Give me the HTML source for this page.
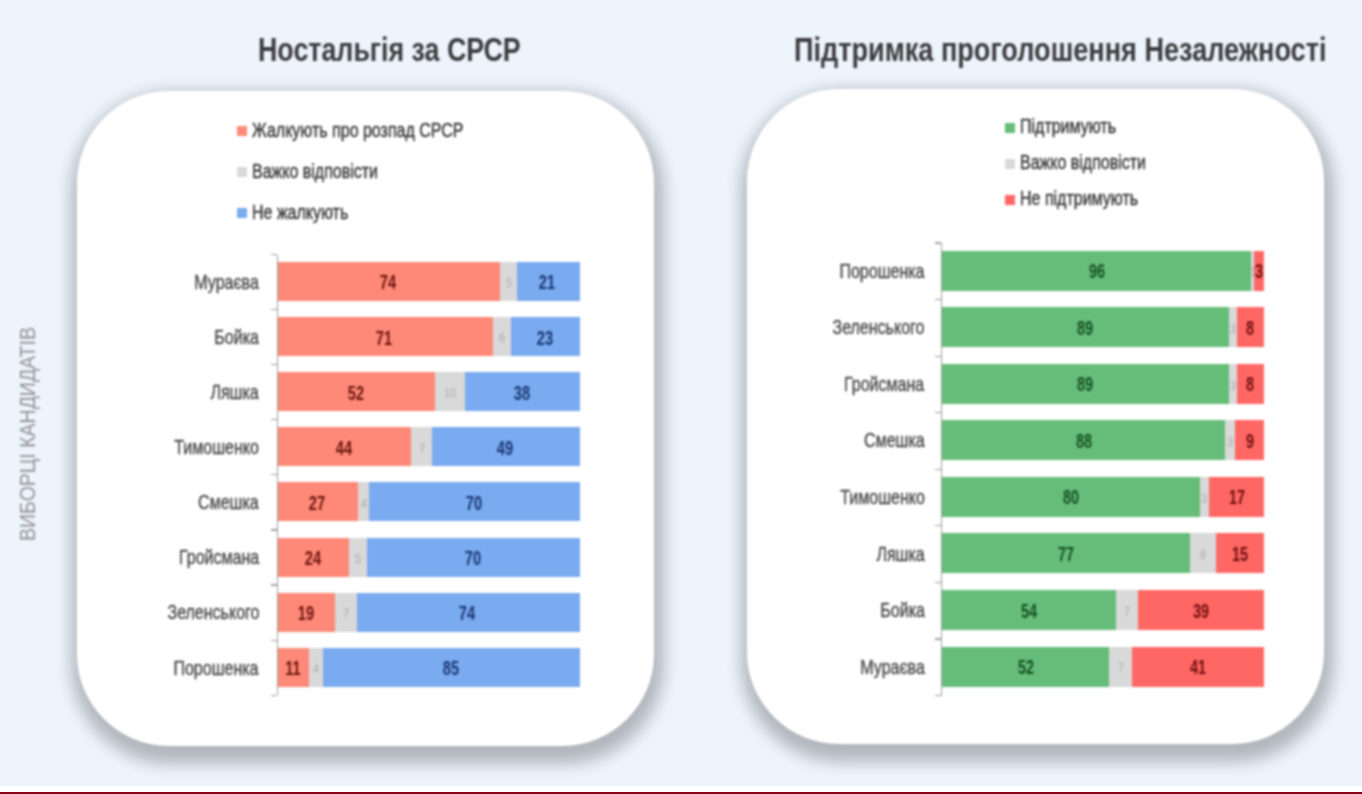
<!DOCTYPE html>
<html><head><meta charset="utf-8"><title>chart</title>
<style>
html,body{margin:0;padding:0;}
body{width:1362px;height:794px;overflow:hidden;background:#EDF4FC;position:relative;font-family:"Liberation Sans", sans-serif;}
</style></head><body>
<div style="position:absolute;left:0;top:0;width:1362px;height:794px;filter:blur(0.85px)">
<div style="position:absolute;left:77px;top:91px;width:577px;height:655px;background:#fff;border-radius:92px;box-shadow:2px 9.5px 16px 8px rgba(0,0,0,0.25);"></div>
<div style="position:absolute;left:747px;top:89px;width:577px;height:655px;background:#fff;border-radius:92px;box-shadow:2px 9.5px 16px 8px rgba(0,0,0,0.25);"></div>
<div style="position:absolute;left:257.50px;top:34.49px;font-size:32.5px;line-height:1;font-weight:bold;color:#3b3b3d;white-space:nowrap;transform:scaleX(0.825);transform-origin:0 0;">Ностальгія за СРСР</div>
<div style="position:absolute;left:794.30px;top:33.89px;font-size:32.5px;line-height:1;font-weight:bold;color:#3b3b3d;white-space:nowrap;transform:scaleX(0.834);transform-origin:0 0;">Підтримка проголошення Незалежності</div>
<div style="position:absolute;left:35.5px;top:540.8px;font-size:21.5px;line-height:1;color:#939393;white-space:nowrap;transform:rotate(-90deg) scaleX(0.908);transform-origin:0 0;"><span style="position:relative;top:-18.20px">ВИБОРЦІ КАНДИДАТІВ</span></div>
<div style="position:absolute;left:237px;top:126.00px;width:10px;height:10px;background:#FF8978"></div>
<div style="position:absolute;left:252.00px;top:121.09px;font-size:19.5px;line-height:1;font-weight:normal;color:#3a3a3a;white-space:nowrap;transform:scaleX(0.82);transform-origin:0 0;-webkit-text-stroke:0.45px #3a3a3a;">Жалкують про розпад СРСР</div>
<div style="position:absolute;left:237px;top:167.00px;width:10px;height:10px;background:#D9D9D9"></div>
<div style="position:absolute;left:252.00px;top:162.09px;font-size:19.5px;line-height:1;font-weight:normal;color:#3a3a3a;white-space:nowrap;transform:scaleX(0.82);transform-origin:0 0;-webkit-text-stroke:0.45px #3a3a3a;">Важко відповісти</div>
<div style="position:absolute;left:237px;top:208.00px;width:10px;height:10px;background:#7AAAF0"></div>
<div style="position:absolute;left:252.00px;top:203.09px;font-size:19.5px;line-height:1;font-weight:normal;color:#3a3a3a;white-space:nowrap;transform:scaleX(0.82);transform-origin:0 0;-webkit-text-stroke:0.45px #3a3a3a;">Не жалкують</div>
<div style="position:absolute;left:1005px;top:123.00px;width:10px;height:10px;background:#66BD7A"></div>
<div style="position:absolute;left:1020.00px;top:117.29px;font-size:19.5px;line-height:1;font-weight:normal;color:#3a3a3a;white-space:nowrap;transform:scaleX(0.82);transform-origin:0 0;-webkit-text-stroke:0.45px #3a3a3a;">Підтримують</div>
<div style="position:absolute;left:1005px;top:159.00px;width:10px;height:10px;background:#D9D9D9"></div>
<div style="position:absolute;left:1020.00px;top:153.29px;font-size:19.5px;line-height:1;font-weight:normal;color:#3a3a3a;white-space:nowrap;transform:scaleX(0.82);transform-origin:0 0;-webkit-text-stroke:0.45px #3a3a3a;">Важко відповісти</div>
<div style="position:absolute;left:1005px;top:195.00px;width:10px;height:10px;background:#FF6764"></div>
<div style="position:absolute;left:1020.00px;top:189.29px;font-size:19.5px;line-height:1;font-weight:normal;color:#3a3a3a;white-space:nowrap;transform:scaleX(0.82);transform-origin:0 0;-webkit-text-stroke:0.45px #3a3a3a;">Не підтримують</div>
<div style="position:absolute;left:276.5px;top:254.5px;width:1.3px;height:440.72px;background:#a0a0a0"></div>
<div style="position:absolute;left:271px;top:253.90px;width:6px;height:1.2px;background:#a0a0a0"></div>
<div style="position:absolute;left:271px;top:308.99px;width:6px;height:1.2px;background:#a0a0a0"></div>
<div style="position:absolute;left:271px;top:364.08px;width:6px;height:1.2px;background:#a0a0a0"></div>
<div style="position:absolute;left:271px;top:419.17px;width:6px;height:1.2px;background:#a0a0a0"></div>
<div style="position:absolute;left:271px;top:474.26px;width:6px;height:1.2px;background:#a0a0a0"></div>
<div style="position:absolute;left:271px;top:529.35px;width:6px;height:1.2px;background:#a0a0a0"></div>
<div style="position:absolute;left:271px;top:584.44px;width:6px;height:1.2px;background:#a0a0a0"></div>
<div style="position:absolute;left:271px;top:639.53px;width:6px;height:1.2px;background:#a0a0a0"></div>
<div style="position:absolute;left:271px;top:694.62px;width:6px;height:1.2px;background:#a0a0a0"></div>
<div style="position:absolute;right:1103.00px;top:271.94px;font-size:20.8px;line-height:1;font-weight:normal;color:#484848;white-space:nowrap;transform:scaleX(0.77);transform-origin:100% 0;-webkit-text-stroke:0.4px #484848;">Мураєва</div>
<div style="position:absolute;left:278.00px;top:262.10px;width:222.49px;height:39px;background:#FF8978"></div>
<div style="position:absolute;left:388.25px;top:273.44px;font-size:19.5px;line-height:1;font-weight:bold;color:#6a140e;white-space:nowrap;transform:translateX(-50%) scaleX(0.75);transform-origin:50% 0;">74</div>
<div style="position:absolute;left:500.49px;top:262.10px;width:16.02px;height:39px;background:#D9D9D9"></div>
<div style="position:absolute;left:508.50px;top:276.24px;font-size:13px;line-height:1;font-weight:normal;color:#acacac;white-space:nowrap;transform:translateX(-50%) scaleX(0.85);transform-origin:50% 0;">5</div>
<div style="position:absolute;left:516.51px;top:262.10px;width:63.79px;height:39px;background:#7AAAF0"></div>
<div style="position:absolute;left:547.41px;top:273.44px;font-size:19.5px;line-height:1;font-weight:bold;color:#1a3670;white-space:nowrap;transform:translateX(-50%) scaleX(0.75);transform-origin:50% 0;">21</div>
<div style="position:absolute;right:1103.00px;top:327.03px;font-size:20.8px;line-height:1;font-weight:normal;color:#484848;white-space:nowrap;transform:scaleX(0.77);transform-origin:100% 0;-webkit-text-stroke:0.4px #484848;">Бойка</div>
<div style="position:absolute;left:278.00px;top:317.19px;width:214.63px;height:39px;background:#FF8978"></div>
<div style="position:absolute;left:384.32px;top:328.53px;font-size:19.5px;line-height:1;font-weight:bold;color:#6a140e;white-space:nowrap;transform:translateX(-50%) scaleX(0.75);transform-origin:50% 0;">71</div>
<div style="position:absolute;left:492.63px;top:317.19px;width:18.14px;height:39px;background:#D9D9D9"></div>
<div style="position:absolute;left:501.70px;top:331.33px;font-size:13px;line-height:1;font-weight:normal;color:#acacac;white-space:nowrap;transform:translateX(-50%) scaleX(0.85);transform-origin:50% 0;">6</div>
<div style="position:absolute;left:510.77px;top:317.19px;width:69.53px;height:39px;background:#7AAAF0"></div>
<div style="position:absolute;left:544.54px;top:328.53px;font-size:19.5px;line-height:1;font-weight:bold;color:#1a3670;white-space:nowrap;transform:translateX(-50%) scaleX(0.75);transform-origin:50% 0;">23</div>
<div style="position:absolute;right:1103.00px;top:382.12px;font-size:20.8px;line-height:1;font-weight:normal;color:#484848;white-space:nowrap;transform:scaleX(0.77);transform-origin:100% 0;-webkit-text-stroke:0.4px #484848;">Ляшка</div>
<div style="position:absolute;left:278.00px;top:372.28px;width:157.20px;height:39px;background:#FF8978"></div>
<div style="position:absolute;left:355.60px;top:383.62px;font-size:19.5px;line-height:1;font-weight:bold;color:#6a140e;white-space:nowrap;transform:translateX(-50%) scaleX(0.75);transform-origin:50% 0;">52</div>
<div style="position:absolute;left:435.20px;top:372.28px;width:30.23px;height:39px;background:#D9D9D9"></div>
<div style="position:absolute;left:450.31px;top:386.42px;font-size:13px;line-height:1;font-weight:normal;color:#acacac;white-space:nowrap;transform:translateX(-50%) scaleX(0.85);transform-origin:50% 0;">10</div>
<div style="position:absolute;left:465.43px;top:372.28px;width:114.87px;height:39px;background:#7AAAF0"></div>
<div style="position:absolute;left:521.86px;top:383.62px;font-size:19.5px;line-height:1;font-weight:bold;color:#1a3670;white-space:nowrap;transform:translateX(-50%) scaleX(0.75);transform-origin:50% 0;">38</div>
<div style="position:absolute;right:1103.00px;top:437.21px;font-size:20.8px;line-height:1;font-weight:normal;color:#484848;white-space:nowrap;transform:scaleX(0.77);transform-origin:100% 0;-webkit-text-stroke:0.4px #484848;">Тимошенко</div>
<div style="position:absolute;left:278.00px;top:427.37px;width:133.01px;height:39px;background:#FF8978"></div>
<div style="position:absolute;left:343.51px;top:438.71px;font-size:19.5px;line-height:1;font-weight:bold;color:#6a140e;white-space:nowrap;transform:translateX(-50%) scaleX(0.75);transform-origin:50% 0;">44</div>
<div style="position:absolute;left:411.01px;top:427.37px;width:21.16px;height:39px;background:#D9D9D9"></div>
<div style="position:absolute;left:421.59px;top:441.51px;font-size:13px;line-height:1;font-weight:normal;color:#acacac;white-space:nowrap;transform:translateX(-50%) scaleX(0.85);transform-origin:50% 0;">7</div>
<div style="position:absolute;left:432.17px;top:427.37px;width:148.13px;height:39px;background:#7AAAF0"></div>
<div style="position:absolute;left:505.24px;top:438.71px;font-size:19.5px;line-height:1;font-weight:bold;color:#1a3670;white-space:nowrap;transform:translateX(-50%) scaleX(0.75);transform-origin:50% 0;">49</div>
<div style="position:absolute;right:1103.00px;top:492.30px;font-size:20.8px;line-height:1;font-weight:normal;color:#484848;white-space:nowrap;transform:scaleX(0.77);transform-origin:100% 0;-webkit-text-stroke:0.4px #484848;">Смешка</div>
<div style="position:absolute;left:278.00px;top:482.46px;width:80.11px;height:39px;background:#FF8978"></div>
<div style="position:absolute;left:317.05px;top:493.80px;font-size:19.5px;line-height:1;font-weight:bold;color:#6a140e;white-space:nowrap;transform:translateX(-50%) scaleX(0.75);transform-origin:50% 0;">27</div>
<div style="position:absolute;left:358.11px;top:482.46px;width:10.88px;height:39px;background:#D9D9D9"></div>
<div style="position:absolute;left:363.55px;top:496.60px;font-size:13px;line-height:1;font-weight:normal;color:#acacac;white-space:nowrap;transform:translateX(-50%) scaleX(0.85);transform-origin:50% 0;">4</div>
<div style="position:absolute;left:368.99px;top:482.46px;width:211.31px;height:39px;background:#7AAAF0"></div>
<div style="position:absolute;left:473.65px;top:493.80px;font-size:19.5px;line-height:1;font-weight:bold;color:#1a3670;white-space:nowrap;transform:translateX(-50%) scaleX(0.75);transform-origin:50% 0;">70</div>
<div style="position:absolute;right:1103.00px;top:547.39px;font-size:20.8px;line-height:1;font-weight:normal;color:#484848;white-space:nowrap;transform:scaleX(0.77);transform-origin:100% 0;-webkit-text-stroke:0.4px #484848;">Гройсмана</div>
<div style="position:absolute;left:278.00px;top:537.55px;width:71.04px;height:39px;background:#FF8978"></div>
<div style="position:absolute;left:312.52px;top:548.89px;font-size:19.5px;line-height:1;font-weight:bold;color:#6a140e;white-space:nowrap;transform:translateX(-50%) scaleX(0.75);transform-origin:50% 0;">24</div>
<div style="position:absolute;left:349.04px;top:537.55px;width:18.14px;height:39px;background:#D9D9D9"></div>
<div style="position:absolute;left:358.11px;top:551.69px;font-size:13px;line-height:1;font-weight:normal;color:#acacac;white-space:nowrap;transform:translateX(-50%) scaleX(0.85);transform-origin:50% 0;">5</div>
<div style="position:absolute;left:367.18px;top:537.55px;width:213.12px;height:39px;background:#7AAAF0"></div>
<div style="position:absolute;left:472.74px;top:548.89px;font-size:19.5px;line-height:1;font-weight:bold;color:#1a3670;white-space:nowrap;transform:translateX(-50%) scaleX(0.75);transform-origin:50% 0;">70</div>
<div style="position:absolute;right:1103.00px;top:602.48px;font-size:20.8px;line-height:1;font-weight:normal;color:#484848;white-space:nowrap;transform:scaleX(0.77);transform-origin:100% 0;-webkit-text-stroke:0.4px #484848;">Зеленського</div>
<div style="position:absolute;left:278.00px;top:592.64px;width:57.44px;height:39px;background:#FF8978"></div>
<div style="position:absolute;left:305.72px;top:603.98px;font-size:19.5px;line-height:1;font-weight:bold;color:#6a140e;white-space:nowrap;transform:translateX(-50%) scaleX(0.75);transform-origin:50% 0;">19</div>
<div style="position:absolute;left:335.44px;top:592.64px;width:21.16px;height:39px;background:#D9D9D9"></div>
<div style="position:absolute;left:346.02px;top:606.78px;font-size:13px;line-height:1;font-weight:normal;color:#acacac;white-space:nowrap;transform:translateX(-50%) scaleX(0.85);transform-origin:50% 0;">7</div>
<div style="position:absolute;left:356.60px;top:592.64px;width:223.70px;height:39px;background:#7AAAF0"></div>
<div style="position:absolute;left:467.45px;top:603.98px;font-size:19.5px;line-height:1;font-weight:bold;color:#1a3670;white-space:nowrap;transform:translateX(-50%) scaleX(0.75);transform-origin:50% 0;">74</div>
<div style="position:absolute;right:1103.00px;top:657.57px;font-size:20.8px;line-height:1;font-weight:normal;color:#484848;white-space:nowrap;transform:scaleX(0.77);transform-origin:100% 0;-webkit-text-stroke:0.4px #484848;">Порошенка</div>
<div style="position:absolute;left:278.00px;top:647.73px;width:31.44px;height:39px;background:#FF8978"></div>
<div style="position:absolute;left:292.72px;top:659.07px;font-size:19.5px;line-height:1;font-weight:bold;color:#6a140e;white-space:nowrap;transform:translateX(-50%) scaleX(0.75);transform-origin:50% 0;">11</div>
<div style="position:absolute;left:309.44px;top:647.73px;width:13.91px;height:39px;background:#D9D9D9"></div>
<div style="position:absolute;left:316.39px;top:661.87px;font-size:13px;line-height:1;font-weight:normal;color:#acacac;white-space:nowrap;transform:translateX(-50%) scaleX(0.85);transform-origin:50% 0;">4</div>
<div style="position:absolute;left:323.35px;top:647.73px;width:256.95px;height:39px;background:#7AAAF0"></div>
<div style="position:absolute;left:450.82px;top:659.07px;font-size:19.5px;line-height:1;font-weight:bold;color:#1a3670;white-space:nowrap;transform:translateX(-50%) scaleX(0.75);transform-origin:50% 0;">85</div>
<div style="position:absolute;left:940.5px;top:243.0px;width:1.3px;height:452.56px;background:#a0a0a0"></div>
<div style="position:absolute;left:935px;top:242.40px;width:6px;height:1.2px;background:#a0a0a0"></div>
<div style="position:absolute;left:935px;top:298.97px;width:6px;height:1.2px;background:#a0a0a0"></div>
<div style="position:absolute;left:935px;top:355.54px;width:6px;height:1.2px;background:#a0a0a0"></div>
<div style="position:absolute;left:935px;top:412.11px;width:6px;height:1.2px;background:#a0a0a0"></div>
<div style="position:absolute;left:935px;top:468.68px;width:6px;height:1.2px;background:#a0a0a0"></div>
<div style="position:absolute;left:935px;top:525.25px;width:6px;height:1.2px;background:#a0a0a0"></div>
<div style="position:absolute;left:935px;top:581.82px;width:6px;height:1.2px;background:#a0a0a0"></div>
<div style="position:absolute;left:935px;top:638.39px;width:6px;height:1.2px;background:#a0a0a0"></div>
<div style="position:absolute;left:935px;top:694.96px;width:6px;height:1.2px;background:#a0a0a0"></div>
<div style="position:absolute;right:437.50px;top:260.68px;font-size:20.8px;line-height:1;font-weight:normal;color:#484848;white-space:nowrap;transform:scaleX(0.77);transform-origin:100% 0;-webkit-text-stroke:0.4px #484848;">Порошенка</div>
<div style="position:absolute;left:942.00px;top:250.60px;width:309.12px;height:40px;background:#66BD7A"></div>
<div style="position:absolute;left:1096.56px;top:262.18px;font-size:19.5px;line-height:1;font-weight:bold;color:#134f1f;white-space:nowrap;transform:translateX(-50%) scaleX(0.74);transform-origin:50% 0;">96</div>
<div style="position:absolute;left:1251.12px;top:250.60px;width:3.22px;height:40px;background:#D9D9D9"></div>
<div style="position:absolute;left:1252.73px;top:265.48px;font-size:13px;line-height:1;font-weight:normal;color:#acacac;white-space:nowrap;transform:translateX(-50%) scaleX(0.85);transform-origin:50% 0;">1</div>
<div style="position:absolute;left:1254.34px;top:250.60px;width:9.66px;height:40px;background:#FF6764"></div>
<div style="position:absolute;left:1259.17px;top:262.18px;font-size:19.5px;line-height:1;font-weight:bold;color:#6c0e0e;white-space:nowrap;transform:translateX(-50%) scaleX(0.74);transform-origin:50% 0;">3</div>
<div style="position:absolute;right:437.50px;top:317.25px;font-size:20.8px;line-height:1;font-weight:normal;color:#484848;white-space:nowrap;transform:scaleX(0.77);transform-origin:100% 0;-webkit-text-stroke:0.4px #484848;">Зеленського</div>
<div style="position:absolute;left:942.00px;top:307.17px;width:286.90px;height:40px;background:#66BD7A"></div>
<div style="position:absolute;left:1085.45px;top:318.75px;font-size:19.5px;line-height:1;font-weight:bold;color:#134f1f;white-space:nowrap;transform:translateX(-50%) scaleX(0.74);transform-origin:50% 0;">89</div>
<div style="position:absolute;left:1228.90px;top:307.17px;width:7.73px;height:40px;background:#D9D9D9"></div>
<div style="position:absolute;left:1232.77px;top:322.05px;font-size:13px;line-height:1;font-weight:normal;color:#acacac;white-space:nowrap;transform:translateX(-50%) scaleX(0.85);transform-origin:50% 0;">3</div>
<div style="position:absolute;left:1236.63px;top:307.17px;width:27.37px;height:40px;background:#FF6764"></div>
<div style="position:absolute;left:1250.32px;top:318.75px;font-size:19.5px;line-height:1;font-weight:bold;color:#6c0e0e;white-space:nowrap;transform:translateX(-50%) scaleX(0.74);transform-origin:50% 0;">8</div>
<div style="position:absolute;right:437.50px;top:373.82px;font-size:20.8px;line-height:1;font-weight:normal;color:#484848;white-space:nowrap;transform:scaleX(0.77);transform-origin:100% 0;-webkit-text-stroke:0.4px #484848;">Гройсмана</div>
<div style="position:absolute;left:942.00px;top:363.74px;width:286.90px;height:40px;background:#66BD7A"></div>
<div style="position:absolute;left:1085.45px;top:375.32px;font-size:19.5px;line-height:1;font-weight:bold;color:#134f1f;white-space:nowrap;transform:translateX(-50%) scaleX(0.74);transform-origin:50% 0;">89</div>
<div style="position:absolute;left:1228.90px;top:363.74px;width:7.73px;height:40px;background:#D9D9D9"></div>
<div style="position:absolute;left:1232.77px;top:378.62px;font-size:13px;line-height:1;font-weight:normal;color:#acacac;white-space:nowrap;transform:translateX(-50%) scaleX(0.85);transform-origin:50% 0;">3</div>
<div style="position:absolute;left:1236.63px;top:363.74px;width:27.37px;height:40px;background:#FF6764"></div>
<div style="position:absolute;left:1250.32px;top:375.32px;font-size:19.5px;line-height:1;font-weight:bold;color:#6c0e0e;white-space:nowrap;transform:translateX(-50%) scaleX(0.74);transform-origin:50% 0;">8</div>
<div style="position:absolute;right:437.50px;top:430.39px;font-size:20.8px;line-height:1;font-weight:normal;color:#484848;white-space:nowrap;transform:scaleX(0.77);transform-origin:100% 0;-webkit-text-stroke:0.4px #484848;">Смешка</div>
<div style="position:absolute;left:942.00px;top:420.31px;width:283.36px;height:40px;background:#66BD7A"></div>
<div style="position:absolute;left:1083.68px;top:431.89px;font-size:19.5px;line-height:1;font-weight:bold;color:#134f1f;white-space:nowrap;transform:translateX(-50%) scaleX(0.74);transform-origin:50% 0;">88</div>
<div style="position:absolute;left:1225.36px;top:420.31px;width:9.66px;height:40px;background:#D9D9D9"></div>
<div style="position:absolute;left:1230.19px;top:435.19px;font-size:13px;line-height:1;font-weight:normal;color:#acacac;white-space:nowrap;transform:translateX(-50%) scaleX(0.85);transform-origin:50% 0;">3</div>
<div style="position:absolute;left:1235.02px;top:420.31px;width:28.98px;height:40px;background:#FF6764"></div>
<div style="position:absolute;left:1249.51px;top:431.89px;font-size:19.5px;line-height:1;font-weight:bold;color:#6c0e0e;white-space:nowrap;transform:translateX(-50%) scaleX(0.74);transform-origin:50% 0;">9</div>
<div style="position:absolute;right:437.50px;top:486.96px;font-size:20.8px;line-height:1;font-weight:normal;color:#484848;white-space:nowrap;transform:scaleX(0.77);transform-origin:100% 0;-webkit-text-stroke:0.4px #484848;">Тимошенко</div>
<div style="position:absolute;left:942.00px;top:476.88px;width:257.60px;height:40px;background:#66BD7A"></div>
<div style="position:absolute;left:1070.80px;top:488.46px;font-size:19.5px;line-height:1;font-weight:bold;color:#134f1f;white-space:nowrap;transform:translateX(-50%) scaleX(0.74);transform-origin:50% 0;">80</div>
<div style="position:absolute;left:1199.60px;top:476.88px;width:9.66px;height:40px;background:#D9D9D9"></div>
<div style="position:absolute;left:1204.43px;top:491.76px;font-size:13px;line-height:1;font-weight:normal;color:#acacac;white-space:nowrap;transform:translateX(-50%) scaleX(0.85);transform-origin:50% 0;">3</div>
<div style="position:absolute;left:1209.26px;top:476.88px;width:54.74px;height:40px;background:#FF6764"></div>
<div style="position:absolute;left:1236.63px;top:488.46px;font-size:19.5px;line-height:1;font-weight:bold;color:#6c0e0e;white-space:nowrap;transform:translateX(-50%) scaleX(0.74);transform-origin:50% 0;">17</div>
<div style="position:absolute;right:437.50px;top:543.53px;font-size:20.8px;line-height:1;font-weight:normal;color:#484848;white-space:nowrap;transform:scaleX(0.77);transform-origin:100% 0;-webkit-text-stroke:0.4px #484848;">Ляшка</div>
<div style="position:absolute;left:942.00px;top:533.45px;width:247.94px;height:40px;background:#66BD7A"></div>
<div style="position:absolute;left:1065.97px;top:545.03px;font-size:19.5px;line-height:1;font-weight:bold;color:#134f1f;white-space:nowrap;transform:translateX(-50%) scaleX(0.74);transform-origin:50% 0;">77</div>
<div style="position:absolute;left:1189.94px;top:533.45px;width:25.76px;height:40px;background:#D9D9D9"></div>
<div style="position:absolute;left:1202.82px;top:548.33px;font-size:13px;line-height:1;font-weight:normal;color:#acacac;white-space:nowrap;transform:translateX(-50%) scaleX(0.85);transform-origin:50% 0;">8</div>
<div style="position:absolute;left:1215.70px;top:533.45px;width:48.30px;height:40px;background:#FF6764"></div>
<div style="position:absolute;left:1239.85px;top:545.03px;font-size:19.5px;line-height:1;font-weight:bold;color:#6c0e0e;white-space:nowrap;transform:translateX(-50%) scaleX(0.74);transform-origin:50% 0;">15</div>
<div style="position:absolute;right:437.50px;top:600.10px;font-size:20.8px;line-height:1;font-weight:normal;color:#484848;white-space:nowrap;transform:scaleX(0.77);transform-origin:100% 0;-webkit-text-stroke:0.4px #484848;">Бойка</div>
<div style="position:absolute;left:942.00px;top:590.02px;width:173.88px;height:40px;background:#66BD7A"></div>
<div style="position:absolute;left:1028.94px;top:601.60px;font-size:19.5px;line-height:1;font-weight:bold;color:#134f1f;white-space:nowrap;transform:translateX(-50%) scaleX(0.74);transform-origin:50% 0;">54</div>
<div style="position:absolute;left:1115.88px;top:590.02px;width:22.54px;height:40px;background:#D9D9D9"></div>
<div style="position:absolute;left:1127.15px;top:604.90px;font-size:13px;line-height:1;font-weight:normal;color:#acacac;white-space:nowrap;transform:translateX(-50%) scaleX(0.85);transform-origin:50% 0;">7</div>
<div style="position:absolute;left:1138.42px;top:590.02px;width:125.58px;height:40px;background:#FF6764"></div>
<div style="position:absolute;left:1201.21px;top:601.60px;font-size:19.5px;line-height:1;font-weight:bold;color:#6c0e0e;white-space:nowrap;transform:translateX(-50%) scaleX(0.74);transform-origin:50% 0;">39</div>
<div style="position:absolute;right:437.50px;top:656.67px;font-size:20.8px;line-height:1;font-weight:normal;color:#484848;white-space:nowrap;transform:scaleX(0.77);transform-origin:100% 0;-webkit-text-stroke:0.4px #484848;">Мураєва</div>
<div style="position:absolute;left:942.00px;top:646.59px;width:167.44px;height:40px;background:#66BD7A"></div>
<div style="position:absolute;left:1025.72px;top:658.17px;font-size:19.5px;line-height:1;font-weight:bold;color:#134f1f;white-space:nowrap;transform:translateX(-50%) scaleX(0.74);transform-origin:50% 0;">52</div>
<div style="position:absolute;left:1109.44px;top:646.59px;width:22.54px;height:40px;background:#D9D9D9"></div>
<div style="position:absolute;left:1120.71px;top:661.47px;font-size:13px;line-height:1;font-weight:normal;color:#acacac;white-space:nowrap;transform:translateX(-50%) scaleX(0.85);transform-origin:50% 0;">7</div>
<div style="position:absolute;left:1131.98px;top:646.59px;width:132.02px;height:40px;background:#FF6764"></div>
<div style="position:absolute;left:1197.99px;top:658.17px;font-size:19.5px;line-height:1;font-weight:bold;color:#6c0e0e;white-space:nowrap;transform:translateX(-50%) scaleX(0.74);transform-origin:50% 0;">41</div>
</div>
<div style="position:absolute;left:0;top:786px;width:1362px;height:6px;background:#fff"></div><div style="position:absolute;left:0;top:792px;width:1362px;height:2px;background:#8C0019"></div>
</body></html>
